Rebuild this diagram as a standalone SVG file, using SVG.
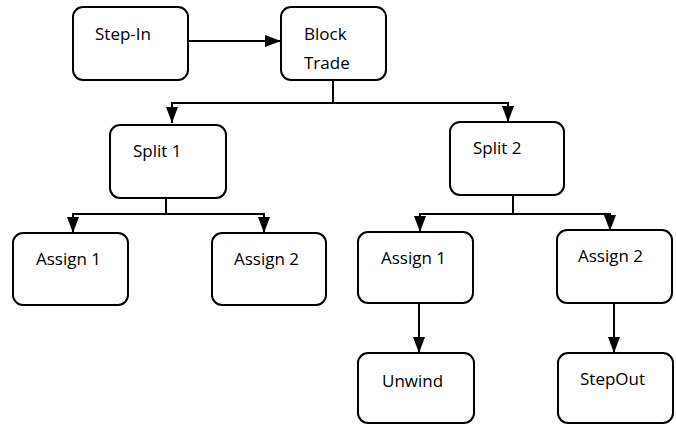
<svg xmlns="http://www.w3.org/2000/svg" width="676" height="425" viewBox="0 0 676 425">
  <style>
    .box { fill: #ffffff; stroke: #000000; stroke-width: 2; }
    .lbl { font-family: "Open Sans", "Liberation Sans", sans-serif; font-size: 17px; fill: #000000; }
    .wire { fill: none; stroke: #000000; stroke-width: 2; }
  </style>
  <defs>
    <marker id="arrow" viewBox="0 0 16 12" refX="16" refY="6" markerWidth="16" markerHeight="12" markerUnits="userSpaceOnUse" orient="auto">
      <path d="M0,0 L16,6 L0,12 Z" fill="#000000"/>
    </marker>
  </defs>

  <rect width="676" height="425" fill="#ffffff"/>

  <!-- connectors -->
  <g id="connectors">
    <line class="wire" x1="188" y1="41" x2="281" y2="41" marker-end="url(#arrow)"/>
    <polyline class="wire" points="333,80 333,103 172,103 172,123" marker-end="url(#arrow)"/>
    <polyline class="wire" points="333,103 508,103 508,122" marker-end="url(#arrow)"/>
    <polyline class="wire" points="166,198 166,214 73,214 73,233" marker-end="url(#arrow)"/>
    <polyline class="wire" points="166,214 264,214 264,233" marker-end="url(#arrow)"/>
    <polyline class="wire" points="513,195 513,214 420,214 420,232" marker-end="url(#arrow)"/>
    <polyline class="wire" points="513,214 610,214 610,231" marker-end="url(#arrow)"/>
    <line class="wire" x1="419" y1="303" x2="419" y2="353" marker-end="url(#arrow)"/>
    <line class="wire" x1="614" y1="303" x2="614" y2="353" marker-end="url(#arrow)"/>
  </g>

  <!-- nodes -->
  <g id="step-in">
    <rect class="box" x="73" y="7" width="115" height="73" rx="10"/>
    <text class="lbl" x="95" y="40">Step-In</text>
  </g>
  <g id="block-trade">
    <rect class="box" x="281" y="7" width="105" height="73" rx="10"/>
    <text class="lbl" x="304" y="40">Block</text>
    <text class="lbl" x="304" y="69">Trade</text>
  </g>
  <g id="split-1">
    <rect class="box" x="110" y="125" width="116" height="73" rx="10"/>
    <text class="lbl" x="133" y="157">Split 1</text>
  </g>
  <g id="split-2">
    <rect class="box" x="450" y="122" width="114" height="73" rx="10"/>
    <text class="lbl" x="473" y="154">Split 2</text>
  </g>
  <g id="assign-1a">
    <rect class="box" x="13" y="233" width="115" height="72" rx="10"/>
    <text class="lbl" x="36" y="265">Assign 1</text>
  </g>
  <g id="assign-2a">
    <rect class="box" x="212" y="233" width="114" height="72" rx="10"/>
    <text class="lbl" x="234" y="265">Assign 2</text>
  </g>
  <g id="assign-1b">
    <rect class="box" x="358" y="232" width="115" height="71" rx="10"/>
    <text class="lbl" x="381" y="264">Assign 1</text>
  </g>
  <g id="assign-2b">
    <rect class="box" x="557" y="230" width="115" height="73" rx="10"/>
    <text class="lbl" x="578" y="262">Assign 2</text>
  </g>
  <g id="unwind">
    <rect class="box" x="358" y="353" width="116" height="70" rx="10"/>
    <text class="lbl" x="382" y="387">Unwind</text>
  </g>
  <g id="stepout">
    <rect class="box" x="558" y="353" width="115" height="70" rx="10"/>
    <text class="lbl" x="580" y="385">StepOut</text>
  </g>
</svg>
